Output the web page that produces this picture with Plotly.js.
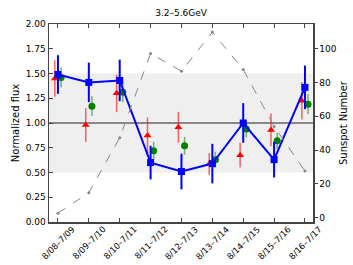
<!DOCTYPE html>
<html><head><meta charset="utf-8">
<script src="https://cdn.plot.ly/plotly-3.0.1.min.js"></script>
<style>html,body{margin:0;padding:0;background:#fff}#c{width:353px;height:265px}</style>
</head><body><div id="c"></div>
<script>
const categories = ["8/08\u20137/09","8/09\u20137/10","8/10\u20137/11","8/11\u20137/12","8/12\u20137/13","8/13\u20137/14","8/14\u20137/15","8/15\u20137/16","8/16\u20137/17"];
const blueFlux = [1.49, 1.41, 1.43, 0.60, 0.51, 0.59, 1.00, 0.63, 1.36];
const blueErr  = [0.195, 0.20, 0.21, 0.17, 0.18, 0.20, 0.20, 0.18, 0.22];
const redFlux  = [1.45, 0.98, 1.30, 0.875, 0.957, 0.586, 0.675, 0.93, 1.225];
const redErr   = [0.185, 0.17, 0.19, 0.18, 0.155, 0.11, 0.125, 0.165, 0.19];
const greenFlux= [1.46, 1.17, 1.31, 0.72, 0.77, 0.63, 0.94, 0.82, 1.19];
const greenErr = [0.10, 0.10, 0.10, 0.09, 0.09, 0.08, 0.085, 0.08, 0.10];
const sunspot  = [2.5, 14.7, 47.3, 97.3, 86.8, 110, 87.8, 54, 27.5];

const idx = categories.map((_, i) => i);
const off = 0.1;
const font = "DejaVu Sans, sans-serif";

const traces = [
  {x: idx.map(i => i - off), y: redFlux, type: 'scatter', mode: 'markers',
   marker: {symbol: 'triangle-up', size: 7, color: '#ff0000'},
   error_y: {type: 'data', array: redErr, visible: true, color: 'rgba(255,0,0,0.6)', thickness: 1.5, width: 0},
   showlegend: false, hoverinfo: 'skip'},
  {x: idx.map(i => i + off), y: greenFlux, type: 'scatter', mode: 'markers',
   marker: {symbol: 'circle', size: 7, color: '#008000'},
   error_y: {type: 'data', array: greenErr, visible: true, color: 'rgba(0,128,0,0.55)', thickness: 1.5, width: 0},
   showlegend: false, hoverinfo: 'skip'},
  {x: idx, y: blueFlux, type: 'scatter', mode: 'lines+markers',
   line: {color: '#0000ff', width: 2},
   marker: {symbol: 'square', size: 7, color: '#0000ff'},
   error_y: {type: 'data', array: blueErr, visible: true, color: '#0000ff', thickness: 2, width: 0},
   showlegend: false, hoverinfo: 'skip'},
  {x: idx, y: sunspot, type: 'scatter', mode: 'lines+markers', yaxis: 'y2',
   line: {color: '#888888', width: 1, dash: 'dash'},
   marker: {size: 3, color: '#888888'},
   showlegend: false, hoverinfo: 'skip'}
];

const tickAnnotations = categories.map((c, i) => ({
  x: i, xref: 'x', y: 0, yref: 'paper', text: c, showarrow: false,
  textangle: -45, xanchor: 'center', yanchor: 'top', yshift: -1, borderpad: 0,
  font: {family: font, size: 8.5, color: '#000'}
}));

const layout = {
  width: 353, height: 265,
  margin: {l: 49, r: 40, t: 24, b: 43, pad: 0},
  paper_bgcolor: '#ffffff', plot_bgcolor: '#ffffff',
  font: {family: font, size: 9, color: '#000'},
  title: {text: '3.2\u20135.6GeV', font: {family: font, size: 9, color: '#000'}, x: 0.513, xanchor: 'center', y: 0.94, yanchor: 'bottom'},
  xaxis: {range: [-0.29, 8.26], tickvals: idx, showticklabels: false,
          ticks: 'inside', ticklen: 4, tickcolor: '#444', tickwidth: 1,
          showline: true, linecolor: '#444', linewidth: 1.5, mirror: 'ticks',
          showgrid: false, zeroline: false},
  yaxis: {range: [0, 2.0], tickvals: [0,0.25,0.5,0.75,1.0,1.25,1.5,1.75,2.0], tickformat: '.2f',
          ticks: 'inside', ticklen: 4, tickcolor: '#444', showline: true, linecolor: '#444', linewidth: 1.5,
          showgrid: false, zeroline: false, tickfont: {family: font, size: 9},
          title: {text: 'Normalized flux', font: {family: font, size: 10}, standoff: 4}},
  yaxis2: {range: [-2.7, 114.8], overlaying: 'y', side: 'right', tickvals: [0,20,40,60,80,100],
           ticks: 'outside', ticklen: 3, tickcolor: '#444', showline: true, linecolor: '#444', linewidth: 1.5,
           showgrid: false, zeroline: false, tickfont: {family: font, size: 9},
           title: {text: 'Sunspot Number', font: {family: font, size: 10}, standoff: 4}},
  annotations: tickAnnotations,
  shapes: [
    {type: 'rect', xref: 'paper', x0: 0, x1: 1, yref: 'y', y0: 0.5, y1: 1.5,
     fillcolor: '#efefef', line: {width: 0}, layer: 'below'},
    {type: 'line', xref: 'paper', x0: 0, x1: 1, yref: 'y', y0: 1.0, y1: 1.0,
     line: {color: '#666666', width: 1.5}, layer: 'below'}
  ]
};

Plotly.newPlot('c', traces, layout, {displayModeBar: false, staticPlot: true});
</script></body></html>
